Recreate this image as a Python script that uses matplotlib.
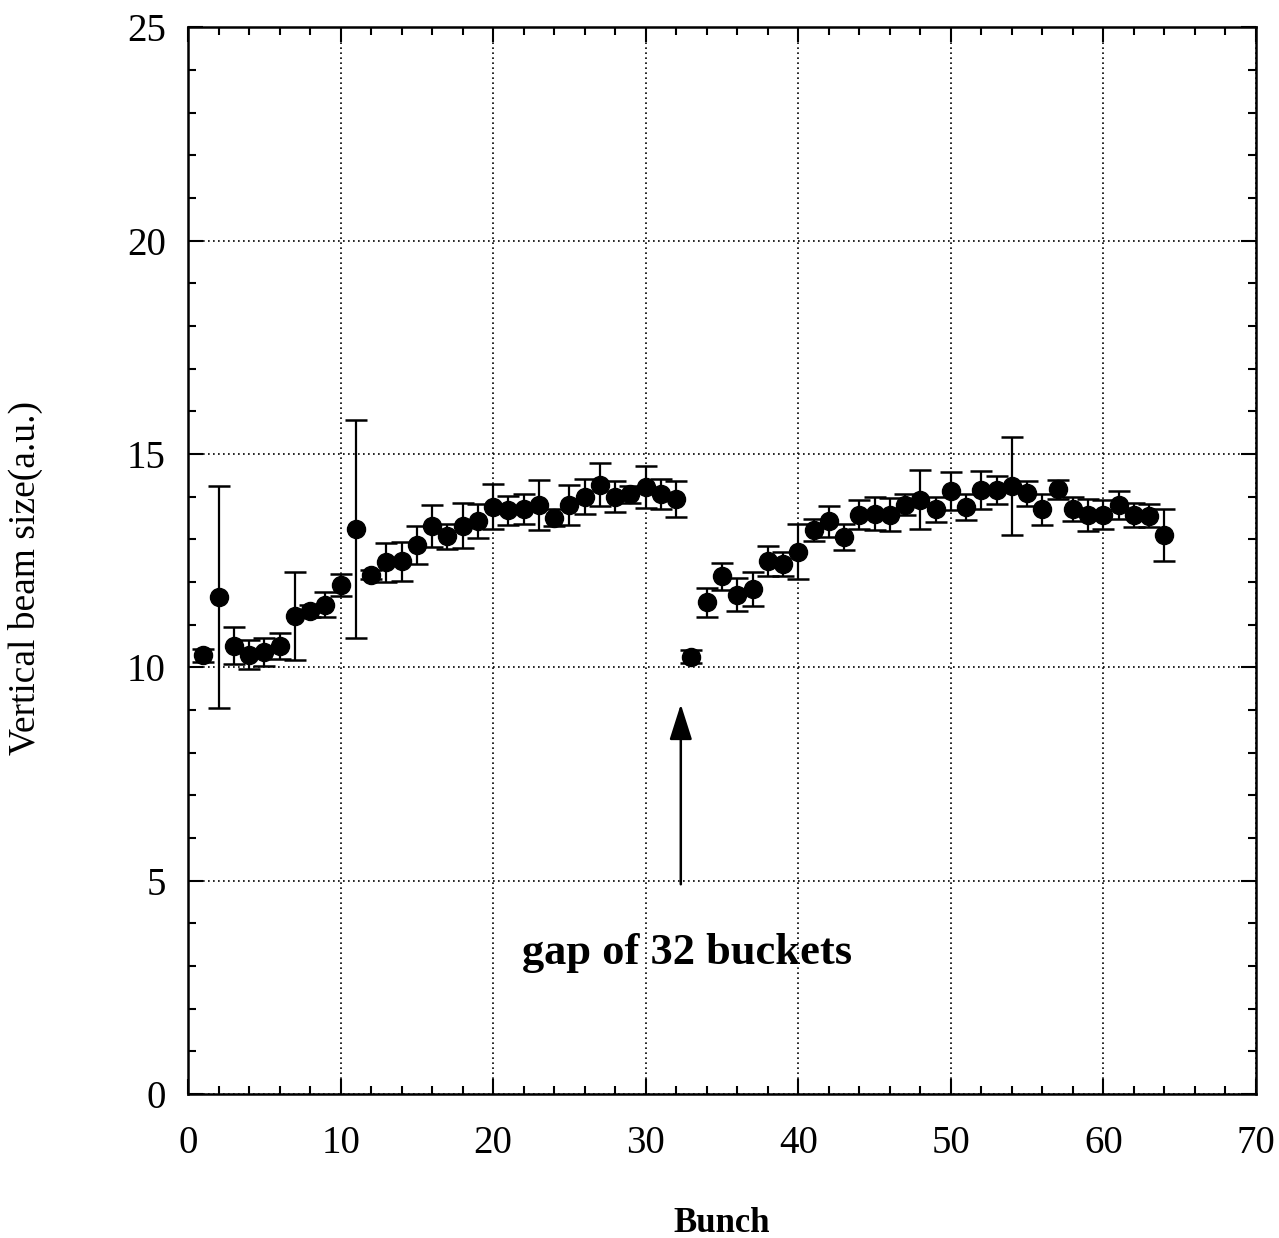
import matplotlib.pyplot as plt
import numpy as np
from matplotlib.ticker import MultipleLocator

# datos
bunch = np.arange(1, 65)
size = [10.28, 11.64, 10.51, 10.30, 10.36, 10.50, 11.21, 11.32, 11.47, 11.93,
        13.24, 12.17, 12.46, 12.48, 12.87, 13.31, 13.07, 13.32, 13.43, 13.76,
        13.68, 13.71, 13.80, 13.50, 13.80, 14.00, 14.28, 14.00, 14.06, 14.23,
        14.06, 13.95, 10.25, 11.52, 12.13, 11.70, 11.84, 12.50, 12.42, 12.71,
        13.21, 13.42, 13.05, 13.58, 13.60, 13.58, 13.81, 13.93, 13.70, 14.13,
        13.76, 14.16, 14.16, 14.24, 14.08, 13.70, 14.17, 13.70, 13.57, 13.58,
        13.81, 13.57, 13.55, 13.10]
err = [0.15, 2.60, 0.43, 0.33, 0.33, 0.30, 1.03, 0.15, 0.30, 0.25,
       2.55, 0.10, 0.45, 0.45, 0.44, 0.50, 0.30, 0.53, 0.40, 0.53,
       0.34, 0.36, 0.58, 0.20, 0.47, 0.41, 0.50, 0.37, 0.20, 0.49,
       0.35, 0.42, 0.15, 0.33, 0.31, 0.39, 0.40, 0.35, 0.28, 0.65,
       0.26, 0.37, 0.30, 0.33, 0.39, 0.39, 0.25, 0.70, 0.30, 0.45,
       0.31, 0.45, 0.33, 1.15, 0.29, 0.37, 0.23, 0.28, 0.37, 0.33,
       0.33, 0.28, 0.27, 0.61]

plt.rcParams['font.family'] = ['Liberation Serif', 'DejaVu Serif']

fig = plt.figure(figsize=(12.79, 12.38), dpi=100)
ax = fig.add_axes([0.147, 0.1163, 0.835, 0.8617])

ax.errorbar(bunch, size, yerr=err, fmt='o', color='black', ms=13,
            elinewidth=1.6, capsize=8, capthick=1.8)

ax.set_xlim(0, 70)
ax.set_ylim(0, 25)
ax.xaxis.set_major_locator(MultipleLocator(10))
ax.xaxis.set_minor_locator(MultipleLocator(2))
ax.yaxis.set_major_locator(MultipleLocator(5))
ax.yaxis.set_minor_locator(MultipleLocator(1))
ax.tick_params(which='both', direction='in', top=True, right=True, width=1.5)
ax.tick_params(which='major', length=11, labelsize=28)
ax.tick_params(axis='y', which='major', pad=16)
ax.tick_params(axis='x', which='major', pad=22)
ax.tick_params(which='minor', length=6)
for s in ax.spines.values():
    s.set_linewidth(1.8)
ax.grid(True, which='major', linestyle=(0, (1, 2)), color='black', linewidth=1.2)

# flecha del hueco
ax.annotate('', xy=(32.3, 9.2), xytext=(32.3, 4.85),
            arrowprops=dict(arrowstyle='-|>,head_length=1.1,head_width=0.35',
                            color='black', lw=1.8, mutation_scale=20))
ax.text(32.7, 3.3, 'gap of 32 buckets', fontsize=32, fontweight='bold',
        ha='center', va='center')

ax.set_xlabel('Bunch', fontsize=25, fontweight='bold')
ax.set_ylabel('Vertical beam size(a.u.)', fontsize=27)
ax.xaxis.set_label_coords(0.5, -0.106)
ax.yaxis.set_label_coords(-0.136, 0.4836)

plt.savefig('out.png', dpi=100)
